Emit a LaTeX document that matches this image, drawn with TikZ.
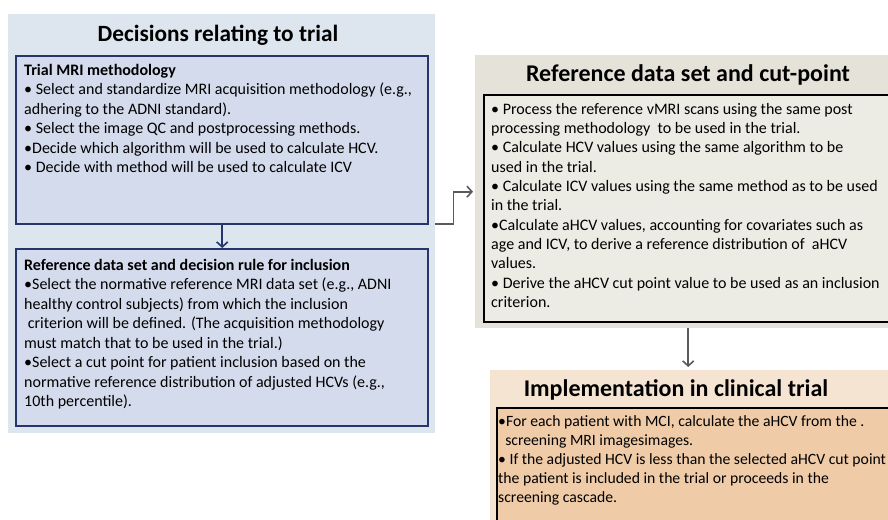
\documentclass[tikz,border=0pt]{standalone}
\usepackage{fontspec}
\setmainfont{Carlito}
\usetikzlibrary{arrows.meta}
\definecolor{decfill}{HTML}{DDE5EE}
\definecolor{decbox}{HTML}{D4DBEC}
\definecolor{decline}{HTML}{27366A}
\definecolor{reffill}{HTML}{E5E3D9}
\definecolor{refbox}{HTML}{ECEBE4}
\definecolor{implfill}{HTML}{F6E4D3}
\definecolor{implbox}{HTML}{EFCBA7}
\definecolor{linkgray}{HTML}{5A5A5A}
\tikzset{
  panel/.style={anchor=north west, inner sep=0pt, draw=none},
  textbox/.style={anchor=north west, inner sep=0pt, line width=2.4pt},
  paneltitle/.style={font=\fontsize{24}{27}\selectfont\bfseries},
  bodytext/.style={anchor=north west, inner sep=0pt, align=left,
    font=\fontsize{16}{19.5}\selectfont},
  link/.style={line width=1.6pt, -{Straight Barb[length=5pt,width=11pt,line width=1.6pt]}},
}
\begin{document}
\begin{tikzpicture}[x=1pt, y=-1pt]
    \useasboundingbox[fill=white] (0,0) rectangle (888,519);

    \node[panel, fill=decfill, minimum width=427, minimum height=419](decpanel) at (8,14) {};
    \node[paneltitle, font=\fontsize{23.3}{27}\selectfont\bfseries](dectitle) at (218,35) {Decisions relating to trial};
    \node[textbox, draw=decline, fill=decbox, minimum width=412, minimum height=168](trialbox) at (15,55) {};
    \node[bodytext](trialtxt) at (24,64) {\textbf{Trial MRI methodology}\\
      • Select and standardize MRI acquisition methodology (e.g.,\\
      adhering to the ADNI standard).\\
      • Select the image QC and postprocessing methods.\\
      •Decide which algorithm will be used to calculate HCV.\\
      • Decide with method will be used to calculate ICV};
    \node[textbox, draw=decline, fill=decbox, minimum width=412, minimum height=177](rulebox) at (15,248) {};
    \node[bodytext](ruletxt) at (24,259) {\textbf{Reference data set and decision rule for inclusion}\\
      •Select the normative reference MRI data set (e.g., ADNI\\
      healthy control subjects) from which the inclusion\\
      \ criterion will be defined. (The acquisition methodology\\
      must match that to be used in the trial.)\\
      •Select a cut point for patient inclusion based on the\\
      normative reference distribution of adjusted HCVs (e.g.,\\
      10th percentile).};

    \node[panel, fill=reffill, minimum width=426, minimum height=273](refpanel) at (475,55) {};
    \node[paneltitle](reftitle) at (688,75) {Reference data set and cut-point};
    \node[textbox, draw=black, fill=refbox, minimum width=410, minimum height=227](refbox) at (483,94) {};
    \node[bodytext, font=\fontsize{16}{19.3}\selectfont](reftxt) at (491,103) {• Process the reference vMRI scans using the same post\\
      processing methodology \ to be used in the trial.\\
      • Calculate HCV values using the same algorithm to be\\
      used in the trial.\\
      • Calculate ICV values using the same method as to be used\\
      in the trial.\\
      •Calculate aHCV values, accounting for covariates such as\\
      age and ICV, to derive a reference distribution of \ aHCV\\
      values.\\
      • Derive the aHCV cut point value to be used as an inclusion\\
      criterion.};

    \node[panel, fill=implfill, minimum width=410, minimum height=160](implpanel) at (490,370) {};
    \node[paneltitle](impltitle) at (676,390) {Implementation in clinical trial};
    \node[textbox, draw=black, line width=1.8pt, fill=implbox, minimum width=404, minimum height=130](implbox) at (496,407) {};
    \node[bodytext, font=\fontsize{15.7}{19}\selectfont](impltxt) at (498,415) {•For each patient with MCI, calculate the aHCV from the .\\
      \ \ screening MRI imagesimages.\\
      • If the adjusted HCV is less than the selected aHCV cut point\\
      the patient is included in the trial or proceeds in the\\
      screening cascade.};

    \draw[link, decline] (trialbox) -- (rulebox);
    \draw[link, linkgray, shorten >=2pt] (decpanel.east) -- ++(18,0) |- (refpanel.west);
    \draw[link, linkgray, shorten >=3pt] (refpanel.south) -- (refpanel.south |- implpanel.north);
\end{tikzpicture}
\end{document}
